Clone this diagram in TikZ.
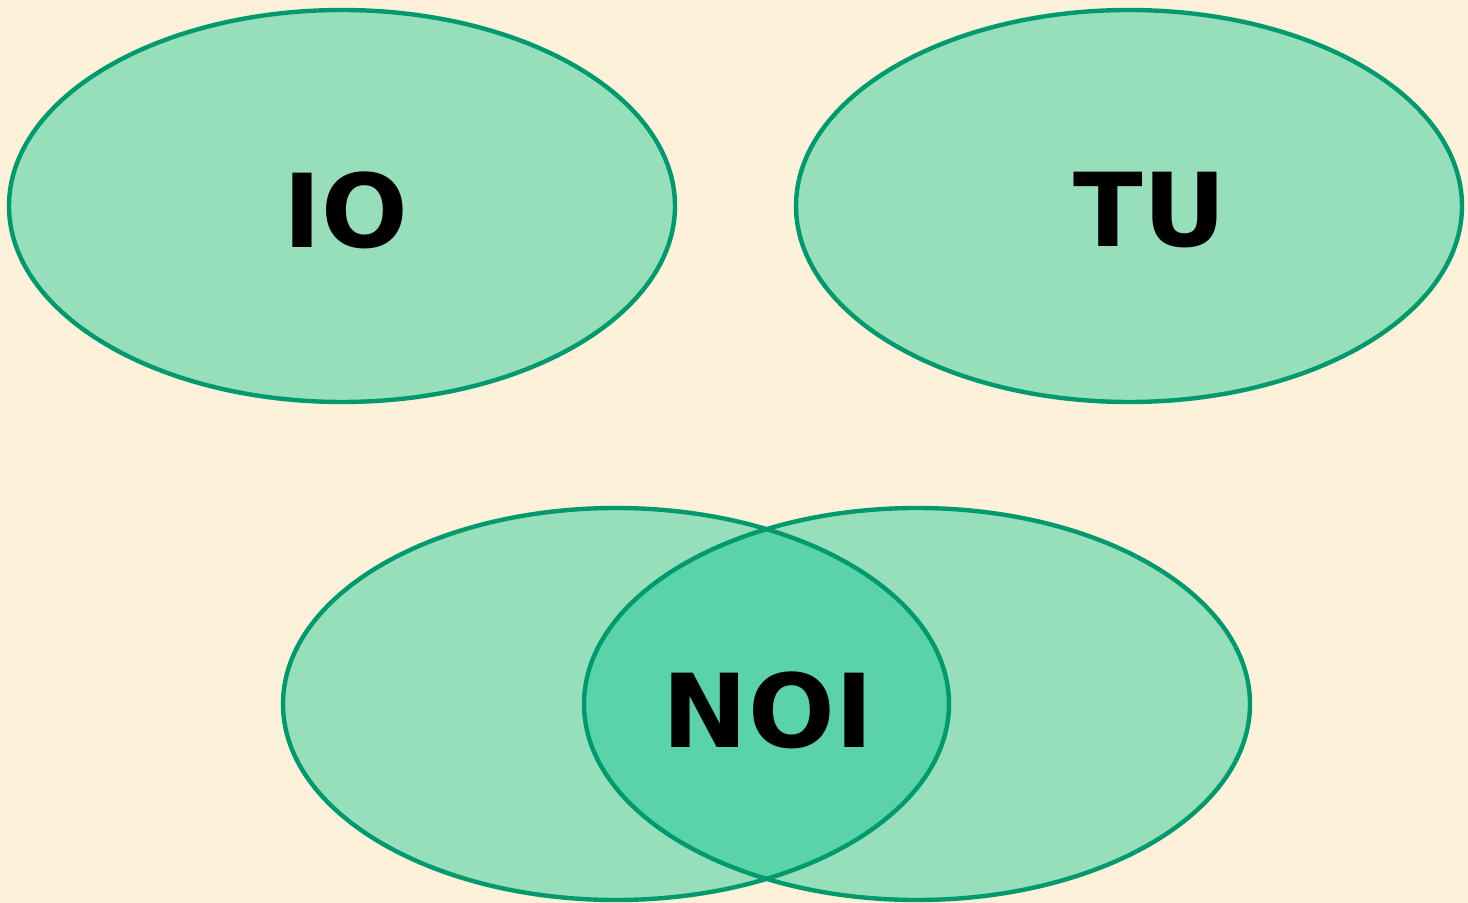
\documentclass[tikz,border=0pt]{standalone}
\usepackage{fontspec}
\setmainfont{DejaVu Sans}
\usetikzlibrary{calc}
\definecolor{paper}{HTML}{FDF1DA}
\definecolor{setfill}{HTML}{97DEBB}
\definecolor{setboth}{HTML}{5BD3A9}
\definecolor{setline}{HTML}{009A6E}
\tikzset{setlabel/.style={font=\fontsize{51}{58}\selectfont\bfseries, text=black}}

\begin{document}
\begin{tikzpicture}[x=0.5pt, y=-0.5pt]
			%%%%% START %%%%%
			
			\useasboundingbox (0, 0) rectangle (1468, 903);
			\fill[paper] (0, 0) rectangle (1468, 903);
			
			\fill[setfill] (342, 206) ellipse (333 and 196);
			\fill[setfill] (1129, 206) ellipse (333 and 196);
			
			\fill[setfill] (616, 704) ellipse (333 and 196);
			\fill[setfill] (917, 704) ellipse (333 and 196);
			\begin{scope}
				\clip (616, 704) ellipse (333 and 196);
				\fill[setboth] (917, 704) ellipse (333 and 196);
			\end{scope}
			
			\draw[line width=2.2pt, color=setline] (342, 206) ellipse (333 and 196);
			\draw[line width=2.2pt, color=setline] (1129, 206) ellipse (333 and 196);
			\draw[line width=2.2pt, color=setline] (616, 704) ellipse (333 and 196);
			\draw[line width=2.2pt, color=setline] (917, 704) ellipse (333 and 196);
			
			\node[setlabel] (io) at (346, 210) {IO};
			\node[setlabel] (tu) at (1150, 210) {TU};
			\node[setlabel] (noi) at (768, 710) {NOI};
			
			%%%%% END %%%%%
		\end{tikzpicture}
\end{document}
